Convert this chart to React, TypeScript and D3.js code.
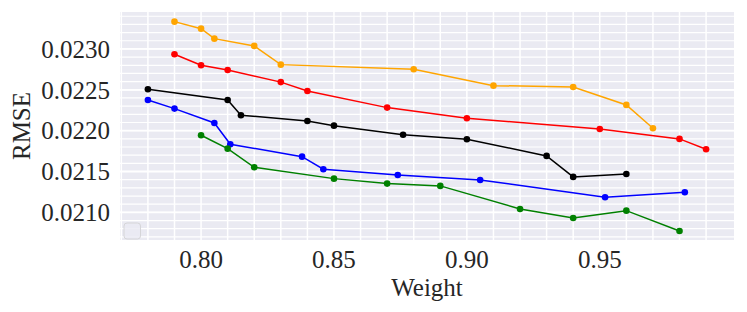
import React from 'react';
import * as d3 from 'd3';

// Weight values and RMSE for each series
const orangeX = [0.79, 0.80, 0.805, 0.82, 0.83, 0.88, 0.91, 0.94, 0.96, 0.97];
const orangeY = [0.023334, 0.023248, 0.023126, 0.023037, 0.022808, 0.022752, 0.022551, 0.022535, 0.022315, 0.022030];

const redX = [0.79, 0.80, 0.81, 0.83, 0.84, 0.87, 0.90, 0.95, 0.98, 0.99];
const redY = [0.022935, 0.022800, 0.022743, 0.022594, 0.022486, 0.022282, 0.022152, 0.022021, 0.021899, 0.021773];

const blackX = [0.78, 0.81, 0.815, 0.84, 0.85, 0.876, 0.90, 0.93, 0.94, 0.96];
const blackY = [0.022507, 0.022376, 0.022189, 0.022119, 0.022061, 0.021950, 0.021895, 0.021691, 0.021434, 0.021470];

const blueX = [0.78, 0.79, 0.805, 0.811, 0.838, 0.846, 0.874, 0.905, 0.952, 0.982];
const blueY = [0.022376, 0.022270, 0.022094, 0.021834, 0.021682, 0.021528, 0.021458, 0.021397, 0.021185, 0.021246];

const greenX = [0.80, 0.81, 0.82, 0.85, 0.87, 0.89, 0.92, 0.94, 0.96, 0.98];
const greenY = [0.021944, 0.021780, 0.021552, 0.021413, 0.021352, 0.021324, 0.021042, 0.020932, 0.021021, 0.020773];

const xTicks = [0.80, 0.85, 0.90, 0.95];
const yTicks = [0.0210, 0.0215, 0.0220, 0.0225, 0.0230];

const series = [
  { xs: orangeX, ys: orangeY, color: '#FFA500' },
  { xs: redX, ys: redY, color: '#FF0000' },
  { xs: blackX, ys: blackY, color: '#000000' },
  { xs: blueX, ys: blueY, color: '#0000FF' },
  { xs: greenX, ys: greenY, color: '#008000' },
];

const W = 747;
const H = 312;
const left = 120, right = 734, top = 12, bottom = 240;
const font = '"Liberation Serif", "DejaVu Serif", serif';

export default function App() {
  const x = d3.scaleLinear().domain([0.7695, 1.0005]).range([left, right]);
  const y = d3.scaleLinear().domain([0.020662, 0.023452]).range([bottom, top]);

  const xMinor = d3.range(0.77, 1.0, 0.01).map((v) => +v.toFixed(2)).filter((v) => x(v) > left && x(v) < right);
  const yMinor = d3.range(0.0207, 0.02346, 0.0001).map((v) => +v.toFixed(4)).filter((v) => y(v) > top && y(v) < bottom);

  const line = d3.line<[number, number]>().x((d) => x(d[0])).y((d) => y(d[1]));

  return (
    <svg width={W} height={H} style={{ position: 'absolute', left: 0, top: 0 }}>
      <rect x={0} y={0} width={W} height={H} fill="#ffffff" />
      <rect x={left} y={top} width={right - left} height={bottom - top} fill="#EAEAF2" />
      {xMinor.map((v) => (
        <line key={'xm' + v} x1={x(v)} x2={x(v)} y1={top} y2={bottom} stroke="#fff" strokeWidth={1.5} />
      ))}
      {yMinor.map((v) => (
        <line key={'ym' + v} x1={left} x2={right} y1={y(v)} y2={y(v)} stroke="#fff" strokeWidth={1.2} />
      ))}
      {yTicks.map((v) => (
        <line key={'yM' + v} x1={left} x2={right} y1={y(v)} y2={y(v)} stroke="#fff" strokeWidth={1.8} />
      ))}

      {series.map((s, i) => {
        const pts = s.xs.map((v, j) => [v, s.ys[j]] as [number, number]);
        return (
          <g key={i}>
            <path d={line(pts) || ''} fill="none" stroke={s.color} strokeWidth={1.5} />
            {pts.map((p, j) => (
              <circle key={j} cx={x(p[0])} cy={y(p[1])} r={3.3} fill={s.color} />
            ))}
          </g>
        );
      })}

      <rect x={124} y={223} width={16.5} height={16} rx={3} fill="#EAEAF2" fillOpacity={0.8} stroke="#d5d5d8" strokeWidth={1} />

      {yTicks.map((v) => (
        <text key={'yt' + v} x={110} y={y(v)} dy="0.35em" textAnchor="end" fontFamily={font} fontSize={25} fill="#262626">
          {v.toFixed(4)}
        </text>
      ))}
      {xTicks.map((v) => (
        <text key={'xt' + v} x={x(v)} y={268} textAnchor="middle" fontFamily={font} fontSize={25} fill="#262626">
          {v.toFixed(2)}
        </text>
      ))}
      <text x={(left + right) / 2} y={296} textAnchor="middle" fontFamily={font} fontSize={25} fill="#262626">
        Weight
      </text>
      <text transform={`translate(30, ${(top + bottom) / 2}) rotate(-90)`} textAnchor="middle" fontFamily={font} fontSize={25} fill="#262626">
        RMSE
      </text>
    </svg>
  );
}
